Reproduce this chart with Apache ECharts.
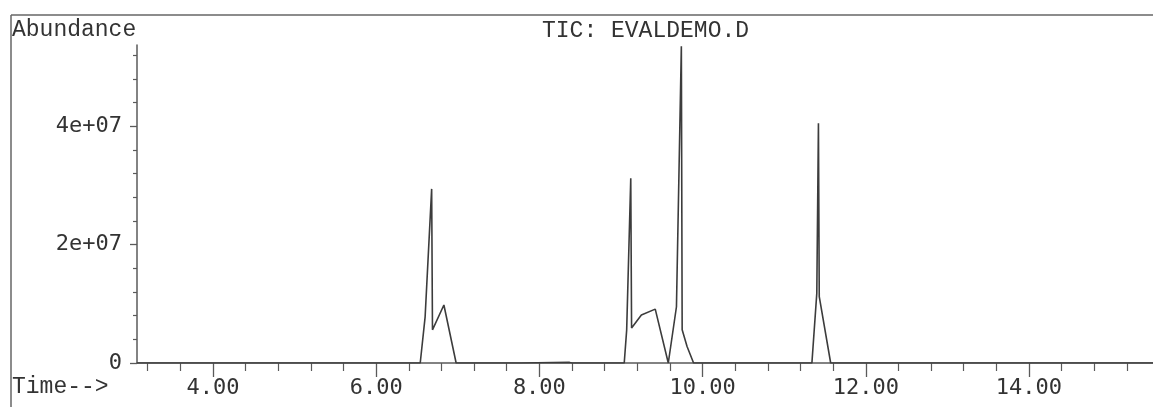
<!DOCTYPE html>
<html>
<head>
<meta charset="utf-8">
<script src="https://cdn.jsdelivr.net/npm/echarts@6/dist/echarts.min.js"></script>
<style>
html,body{margin:0;padding:0;background:#fff;}
#c{width:1153px;height:407px;}
</style>
</head>
<body>
<div id="c"></div>
<script>
// Retention time (min) and abundance values
var times = [3.07, 6.54, 6.60, 6.68, 6.69, 6.83, 6.98, 7.78, 7.80, 8.37, 8.40,
             9.04, 9.07, 9.12, 9.13, 9.25, 9.42, 9.58, 9.68, 9.74, 9.75, 9.81, 9.89,
             11.34, 11.40, 11.42, 11.43, 11.57, 15.52];
var abundance = [0, 0, 0.78e7, 2.94e7, 0.56e7, 0.98e7, 0, 0, 0.01e7, 0.01e7, 0,
                 0, 0.56e7, 3.12e7, 0.59e7, 0.81e7, 0.91e7, 0, 0.95e7, 5.35e7, 0.56e7, 0.28e7, 0,
                 0, 1.18e7, 4.05e7, 1.12e7, 0, 0];

var xMajorTicks = [4, 6, 8, 10, 12, 14];
var xMinorTicks = [3.2, 3.6, 4.4, 4.8, 5.2, 5.6, 6.4, 6.8, 7.2, 7.6, 8.4, 8.8, 9.2, 9.6,
                   10.4, 10.8, 11.2, 11.6, 12.4, 12.8, 13.2, 13.6, 14.4, 14.8, 15.2];
var yMajorTicks = [0, 2e7, 4e7];
var yMinorTicks = [4e6, 8e6, 1.2e7, 1.6e7, 2.4e7, 2.8e7, 3.2e7, 3.6e7, 4.4e7, 4.8e7, 5.2e7];

var title = 'TIC: EVALDEMO.D';
var yName = 'Abundance';
var xName = 'Time-->';

var X_MIN = 3.069, X_MAX = 15.52, Y_MAX = 5.37e7;
var axisColor = '#5a5a5a';
var textColor = '#333';
var serif = '"Liberation Mono", "Courier New", monospace';
var numFont = '"DejaVu Sans Mono", monospace';

var data = times.map(function (t, i) { return [t, abundance[i]]; });

function yFmt(v) {
  if (v === 0) return '0';
  var e = Math.floor(Math.log10(v) + 1e-9);
  var m = Math.round(v / Math.pow(10, e));
  return m + 'e+' + (e < 10 ? '0' + e : e);
}

var chart = echarts.init(document.getElementById('c'), null, {renderer: 'canvas'});
chart.setOption({
  animation: false,
  backgroundColor: '#fff',
  title: [
    {text: title, left: 542, top: 19, padding: 0,
     textStyle: {fontFamily: serif, fontSize: 23, fontWeight: 'normal', color: textColor}},
    {text: yName, left: 12, top: 18, padding: 0,
     textStyle: {fontFamily: serif, fontSize: 23, fontWeight: 'normal', color: textColor}},
    {text: xName, left: 12, top: 375, padding: 0,
     textStyle: {fontFamily: serif, fontSize: 23, fontWeight: 'normal', color: textColor}}
  ],
  grid: {left: 137, right: 0, top: 45, bottom: 44, containLabel: false},
  xAxis: [
    {type: 'value', min: X_MIN, max: X_MAX, position: 'bottom',
     axisLine: {show: true, onZero: false, lineStyle: {color: axisColor, width: 1.5}},
     axisTick: {show: true, length: 14, customValues: xMajorTicks, lineStyle: {color: axisColor, width: 1.3}},
     axisLabel: {show: true, customValues: xMajorTicks, margin: 14,
       fontFamily: numFont, fontSize: 22, color: textColor,
       formatter: function (v) { return v.toFixed(2); }},
     splitLine: {show: false}},
    {type: 'value', min: X_MIN, max: X_MAX, position: 'bottom',
     axisLine: {show: false},
     axisTick: {show: true, length: 8, customValues: xMinorTicks, lineStyle: {color: axisColor, width: 1.2}},
     axisLabel: {show: false},
     splitLine: {show: false}}
  ],
  yAxis: [
    {type: 'value', min: 0, max: Y_MAX, position: 'left',
     axisLine: {show: true, onZero: false, lineStyle: {color: axisColor, width: 1.5}},
     axisTick: {show: true, length: 7, customValues: yMajorTicks, lineStyle: {color: axisColor, width: 1.3}},
     axisLabel: {show: true, customValues: yMajorTicks, margin: 15,
       fontFamily: numFont, fontSize: 22, color: textColor, formatter: yFmt},
     splitLine: {show: false}},
    {type: 'value', min: 0, max: Y_MAX, position: 'left',
     axisLine: {show: false},
     axisTick: {show: true, length: 4, customValues: yMinorTicks, lineStyle: {color: axisColor, width: 1.2}},
     axisLabel: {show: false},
     splitLine: {show: false}}
  ],
  graphic: [
    {type: 'line', shape: {x1: 11, y1: 15, x2: 1153, y2: 15}, style: {stroke: '#666', lineWidth: 1.5}, silent: true},
    {type: 'line', shape: {x1: 11, y1: 15, x2: 11, y2: 407}, style: {stroke: '#666', lineWidth: 1.5}, silent: true}
  ],
  series: [{
    type: 'line', xAxisIndex: 0, yAxisIndex: 0, data: data,
    symbol: 'none', smooth: false, clip: true,
    lineStyle: {color: '#3c3c3c', width: 1.6}
  }]
});
</script>
</body>
</html>
